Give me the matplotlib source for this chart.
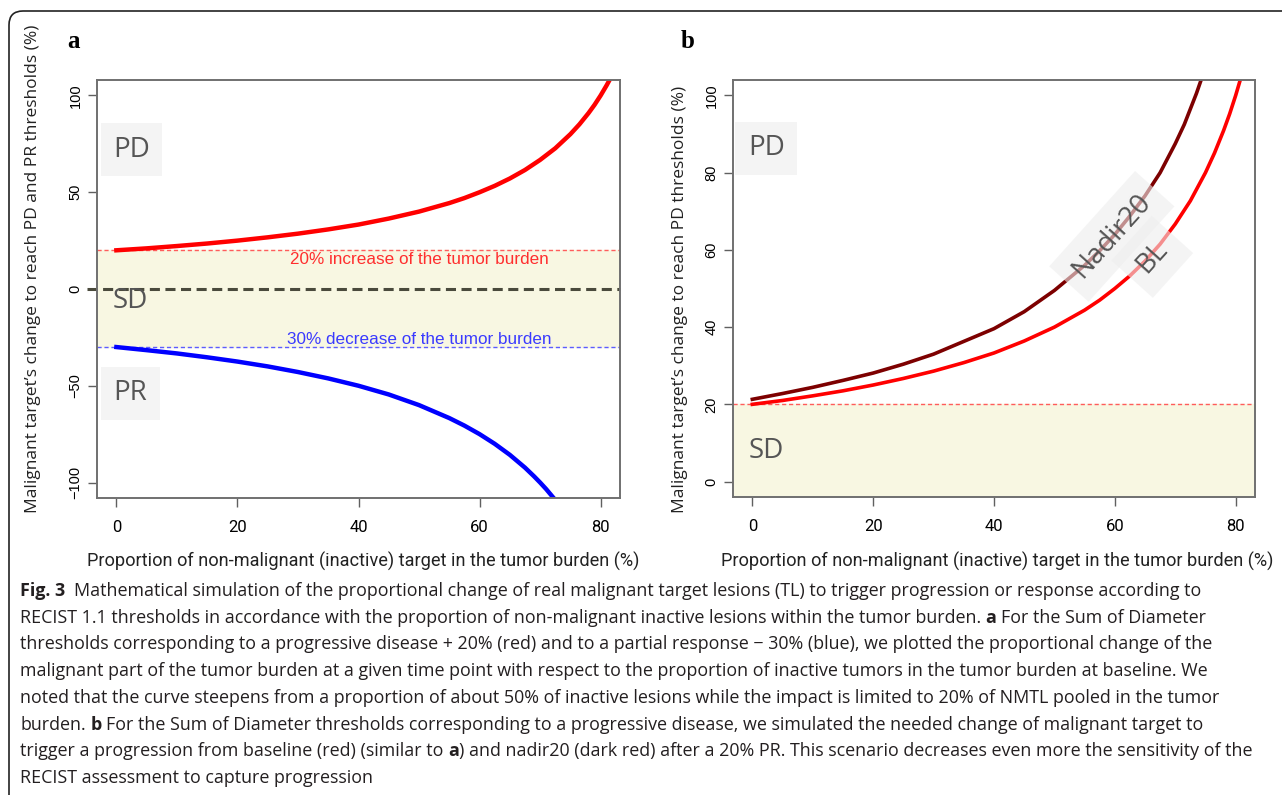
import matplotlib
matplotlib.use("Agg")
import matplotlib.pyplot as plt
from matplotlib.patches import FancyBboxPatch
from matplotlib.transforms import IdentityTransform

# values
# panel a: change of malignant target needed to reach PD (+20%) / PR (-30%)
pct_pd = [0, 5, 10, 15, 20, 25, 30, 35, 40, 45, 50, 55, 57.5, 60, 62.5, 65, 67.5, 70, 72.5, 75, 76.5, 78, 79, 80, 81, 82]
pd_change = [20, 21, 22.2, 23.5, 25, 26.7, 28.6, 30.8, 33.3, 36.4, 40, 44.4, 47, 50, 53.3, 57.1, 61.5, 66.7, 72.7, 80, 85.1, 90.9, 95.2, 100, 105.3, 111]
pct_pr = [0, 5, 10, 15, 20, 25, 30, 35, 40, 45, 50, 55, 57.5, 60, 62.5, 65, 67.5, 69, 70, 71, 72.5]
pr_change = [-30, -31.6, -33.3, -35.3, -37.5, -40, -42.9, -46.2, -50, -54.5, -60, -66.7, -70.6, -75, -80, -85.7, -92.3, -96.8, -100, -103.4, -109]

# panel b: PD from baseline (BL) and from nadir after a 20% PR (Nadir20)
pct_bl = [0, 5, 10, 15, 20, 25, 30, 35, 40, 45, 50, 55, 57.5, 60, 62.5, 65, 67.5, 70, 72.5, 75, 76.5, 78, 79, 80, 81, 82]
bl_change = [20, 21, 22.2, 23.5, 25, 26.7, 28.6, 30.8, 33.3, 36.4, 40, 44.4, 47, 50, 53.3, 57.1, 61.5, 66.7, 72.7, 80, 85.1, 90.9, 95.2, 100, 105.3, 111]
pct_nadir = [0, 5, 10, 15, 20, 25, 30, 35, 40, 45, 50, 55, 57.5, 60, 62.5, 65, 67.5, 70, 71.5, 72.5, 73.5, 74.5, 75.5]
nadir_change = [21.3, 22.8, 24.4, 26.2, 28.1, 30.4, 33, 36.3, 39.6, 44, 49.5, 56, 59.8, 64, 68.8, 74, 80, 87.5, 92.5, 96.5, 100.5, 105, 110]

pd_threshold = 20
pr_threshold = -30
x_ticks = [0, 20, 40, 60, 80]
y_ticks_a = [-100, -50, 0, 50, 100]
y_ticks_b = [0, 20, 40, 60, 80, 100]

caption = [
    [("Fig. 3", True, 2), ("Mathematical simulation of the proportional change of real malignant target lesions (TL) to trigger progression or response according to", False, 0)],
    [("RECIST 1.1 thresholds in accordance with the proportion of non-malignant inactive lesions within the tumor burden.", False, 1), ("a", True, 1), ("For the Sum of Diameter", False, 0)],
    [("thresholds corresponding to a progressive disease + 20% (red) and to a partial response \u2212 30% (blue), we plotted the proportional change of the", False, 0)],
    [("malignant part of the tumor burden at a given time point with respect to the proportion of inactive tumors in the tumor burden at baseline. We", False, 0)],
    [("noted that the curve steepens from a proportion of about 50% of inactive lesions while the impact is limited to 20% of NMTL pooled in the tumor", False, 0)],
    [("burden.", False, 1), ("b", True, 1), ("For the Sum of Diameter thresholds corresponding to a progressive disease, we simulated the needed change of malignant target to", False, 0)],
    [("trigger a progression from baseline (red) (similar to", False, 1), ("a", True, 0), (") and nadir20 (dark red) after a 20% PR. This scenario decreases even more the sensitivity of the", False, 0)],
    [("RECIST assessment to capture progression", False, 0)],
]

W, H = 1282, 795
fig = plt.figure(figsize=(W / 100, H / 100), dpi=100)


def fx(px):
    return px / W


def fy(py):
    return 1 - py / H


ax1 = fig.add_axes([fx(97), fy(498), (620 - 97) / W, (498 - 80) / H])
ax2 = fig.add_axes([fx(733), fy(497), (1255 - 733) / W, (497 - 80) / H])


def style_axes(ax, yticks, ylim):
    ax.set_xlim(-3.2, 83.2)
    ax.set_ylim(*ylim)
    for s in ax.spines.values():
        s.set_color("#707070")
        s.set_linewidth(1.4)
    ax.set_xticks(x_ticks)
    ax.set_yticks(yticks)
    ax.tick_params(length=6.5, width=1, color="#606060", direction="out")
    ax.tick_params(axis="x", pad=9, labelsize=12)
    ax.tick_params(axis="y", pad=4, labelsize=10.5)
    for lab in ax.get_xticklabels():
        lab.set_family("Roboto")
    for lab in ax.get_yticklabels():
        lab.set_family("Liberation Sans")
        lab.set_rotation(90)
        lab.set_va("center")


box_kw = dict(boxstyle="square,pad=0.45", facecolor="#f4f4f4", edgecolor="none")
label_kw = dict(fontsize=20, color="#555555", ha="center", va="center", family="Open Sans")

# ---- panel a
style_axes(ax1, y_ticks_a, (-108, 108))
ax1.axhspan(pr_threshold, pd_threshold, color="#f8f7e2", zorder=0)
ax1.axhline(pd_threshold, color="#ff5c5c", lw=1, ls=(0, (3, 2)))
ax1.axhline(pr_threshold, color="#5c5cff", lw=1, ls=(0, (3, 2)))
ax1.plot([-0.02, 1], [0, 0], transform=ax1.get_yaxis_transform(), clip_on=False,
         color="#4a4a3c", lw=2.2, ls=(0, (3.3, 1.8)))
ax1.plot(pct_pd, pd_change, color="#ff0000", lw=3.2)
ax1.plot(pct_pr, pr_change, color="#0000ff", lw=3.2)
ax1.text(50, 15, "20% increase of the tumor burden", color="#ff2e2e", ha="center",
         va="center", fontsize=12.3, family="Liberation Sans")
ax1.text(50, -26, "30% decrease of the tumor burden", color="#3a3aff", ha="center",
         va="center", fontsize=12.3, family="Liberation Sans")
ax1.text(2.5, 72, "PD", bbox=box_kw, **label_kw)
ax1.text(2.3, -6, "SD", **label_kw)
ax1.text(2.3, -54, "PR", bbox=box_kw, **label_kw)

# ---- panel b
style_axes(ax2, y_ticks_b, (-4, 104))
ax2.axhspan(-10, pd_threshold, color="#f8f7e2", zorder=0)
ax2.axhline(pd_threshold, color="#ff5c5c", lw=1, ls=(0, (3, 2)))
ax2.plot(pct_nadir, nadir_change, color="#7d0000", lw=2.6)
ax2.plot(pct_bl, bl_change, color="#ff0000", lw=2.6)
ax2.text(2.3, 86.3, "PD", bbox=box_kw, **label_kw)
ax2.text(2.3, 8, "SD", **label_kw)
ax2.text(59.5, 63.5, "Nadir20", rotation=48, rotation_mode="anchor",
         bbox=dict(boxstyle="square,pad=0.45", facecolor="#eeeeee", edgecolor="none", alpha=0.6),
         **label_kw)
ax2.text(66.2, 58.2, "BL", rotation=48, rotation_mode="anchor",
         bbox=dict(boxstyle="square,pad=0.5", facecolor="#eeeeee", edgecolor="none", alpha=0.6),
         **label_kw)

# axis titles and panel letters
fig.text(fx(74), fy(42), "a", fontsize=18, weight="bold", family="Liberation Serif", ha="center", va="center")
fig.text(fx(688), fy(42), "b", fontsize=18, weight="bold", family="Liberation Serif", ha="center", va="center")
fig.text(fx(33), fy(269), "Malignant target\u2019s change to reach PD and PR thresholds (%)",
         rotation=90, ha="center", va="center", fontsize=12.5, family="Open Sans", color="#222222")
fig.text(fx(680), fy(299), "Malignant target\u2019s change to reach PD thresholds (%)",
         rotation=90, ha="center", va="center", fontsize=12.5, family="Open Sans", color="#222222")
xlab_kw = dict(ha="center", va="center", fontsize=13.1, family="Roboto", color="#222222")
fig.text(fx(363), fy(561), "Proportion of non-malignant (inactive) target in the tumor burden (%)", **xlab_kw)
fig.text(fx(997), fy(561), "Proportion of non-malignant (inactive) target in the tumor burden (%)", **xlab_kw)

# caption, drawn run by run so bold pieces can sit inside a line
renderer = fig.canvas.get_renderer()
cap_kw = dict(fontsize=12.9, family="Open Sans", color="#231f20", va="center", ha="left")


def text_width(s, bold):
    t = fig.text(0, 0, s, fontweight="bold" if bold else "normal", **cap_kw)
    w = t.get_window_extent(renderer).width
    t.remove()
    return w


space_w = text_width("a a", False) - text_width("aa", False)
for i, line in enumerate(caption):
    x = 20
    y = 591 + i * 26.7
    for s, bold, gap in line:
        t = fig.text(fx(x), fy(y), s, fontweight="bold" if bold else "normal", **cap_kw)
        x += t.get_window_extent(renderer).width + gap * space_w

# rounded frame around the figure
frame = FancyBboxPatch((9, -30), 1320, H - 11 + 30, boxstyle="round,pad=0,rounding_size=14",
                       transform=IdentityTransform(), fill=False, edgecolor="#222222", lw=1.2)
fig.patches.append(frame)

fig.savefig("out.png", dpi=100)
